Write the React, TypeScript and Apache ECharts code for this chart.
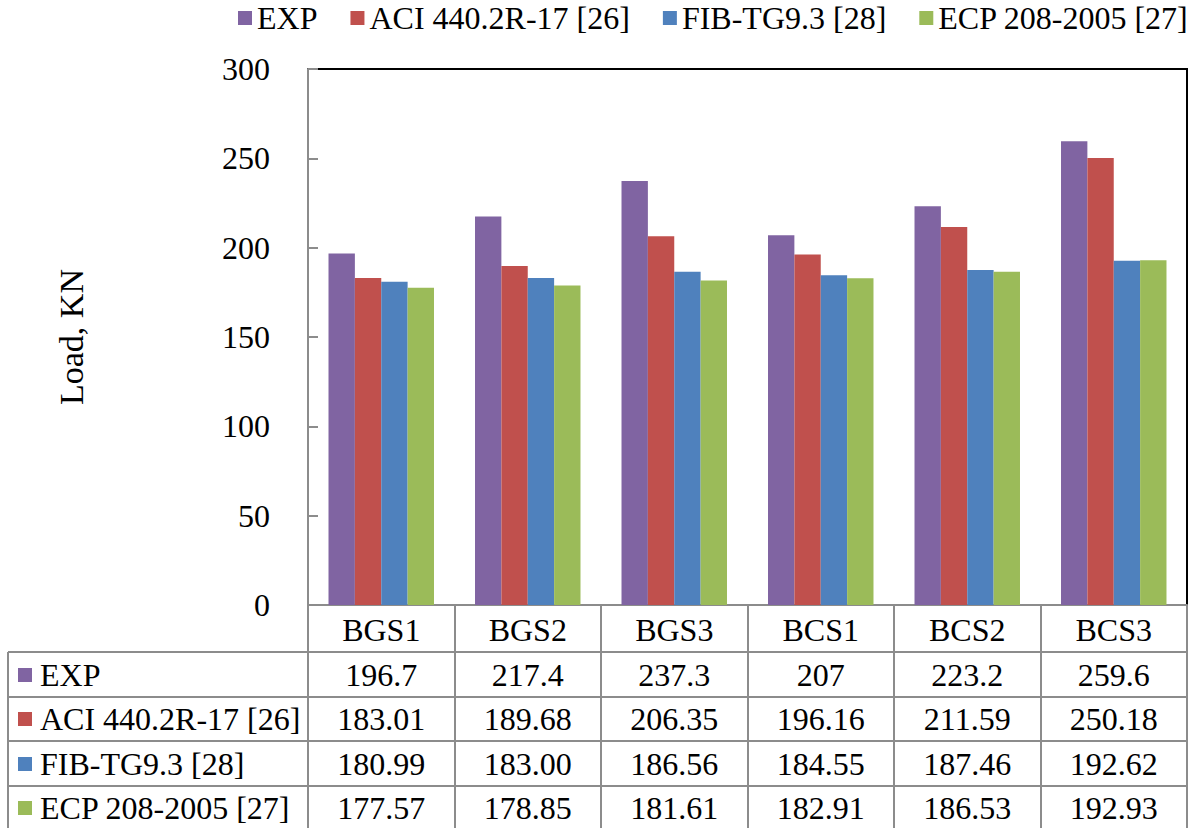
import React, { useEffect, useRef } from "react";
import * as echarts from "echarts";

const categories = ["BGS1", "BGS2", "BGS3", "BCS1", "BCS2", "BCS3"];
const seriesNames = ["EXP", "ACI 440.2R-17 [26]", "FIB-TG9.3 [28]", "ECP 208-2005 [27]"];
const expValues = [196.7, 217.4, 237.3, 207, 223.2, 259.6];
const aciValues = [183.01, 189.68, 206.35, 196.16, 211.59, 250.18];
const fibValues = [180.99, 183.0, 186.56, 184.55, 187.46, 192.62];
const ecpValues = [177.57, 178.85, 181.61, 182.91, 186.53, 192.93];
const seriesDecimals = [-1, 2, 2, 2];
const yTicks = { min: 0, max: 300, interval: 50 };
const axisName = "Load, KN";

const colors = ["#8064A2", "#C0504D", "#4F81BD", "#9BBB59"];
const FONT = "'Liberation Serif', 'Times New Roman', serif";
const FS = 32;

export default function App() {
  const ref = useRef<HTMLDivElement>(null);
  useEffect(() => {
    document.body.style.margin = "0";
    const chart = echarts.init(ref.current!, null, { renderer: "svg" });
    const allValues = [expValues, aciValues, fibValues, ecpValues];

    const gridLeft = 308;
    const gridRight = 1187;
    const gridTop = 69;
    const gridBottom = 605;
    const colW = (gridRight - gridLeft) / categories.length;
    const rowLines = [652, 697, 741, 786];
    const rowCenters = [675, 719, 764, 808];
    const tableLeft = 8;
    const lineColor = "#8C8C8C";

    const graphics: any[] = [];
    for (let i = 0; i <= categories.length; i++) {
      const x = Math.round(gridLeft + i * colW);
      graphics.push({
        type: "line",
        shape: { x1: x, y1: gridBottom, x2: x, y2: 830 },
        style: { stroke: lineColor, lineWidth: 2 },
        silent: true,
      });
    }
    graphics.push({
      type: "line",
      shape: { x1: tableLeft, y1: rowLines[0], x2: tableLeft, y2: 830 },
      style: { stroke: lineColor, lineWidth: 2 },
      silent: true,
    });
    rowLines.forEach((y) => {
      graphics.push({
        type: "line",
        shape: { x1: tableLeft, y1: y, x2: gridRight, y2: y },
        style: { stroke: lineColor, lineWidth: 2 },
        silent: true,
      });
    });
    seriesNames.forEach((name, r) => {
      const cy = rowCenters[r];
      graphics.push({
        type: "rect",
        shape: { x: 18, y: cy - 7, width: 14, height: 14 },
        style: { fill: colors[r] },
        silent: true,
      });
      graphics.push({
        type: "text",
        x: 40,
        y: cy,
        style: {
          text: name,
          fontSize: FS,
          fontFamily: FONT,
          fill: "#000",
          align: "left",
          verticalAlign: "middle",
        },
        silent: true,
      });
      allValues[r].forEach((v, c) => {
        const d = seriesDecimals[r];
        graphics.push({
          type: "text",
          x: gridLeft + (c + 0.5) * colW,
          y: cy,
          style: {
            text: d < 0 ? String(v) : v.toFixed(d),
            fontSize: FS,
            fontFamily: FONT,
            fill: "#000",
            align: "center",
            verticalAlign: "middle",
          },
          silent: true,
        });
      });
    });

    chart.setOption({
      animation: false,
      backgroundColor: "#fff",
      textStyle: { fontFamily: FONT },
      legend: {
        data: seriesNames,
        top: 2,
        left: 238,
        padding: 0,
        icon: "rect",
        itemWidth: 14,
        itemHeight: 14,
        itemGap: 33,
        textStyle: { fontSize: FS, fontFamily: FONT, color: "#000" },
      },
      grid: {
        left: gridLeft,
        top: gridTop,
        width: gridRight - gridLeft,
        height: gridBottom - gridTop,
        show: true,
        borderColor: "#000",
        borderWidth: 2,
        containLabel: false,
      },
      xAxis: {
        type: "category",
        data: categories,
        axisLine: { lineStyle: { color: "#8C8C8C", width: 2 } },
        axisTick: { show: false },
        axisLabel: { fontSize: FS, fontFamily: FONT, color: "#000", margin: 9 },
      },
      yAxis: {
        type: "value",
        min: yTicks.min,
        max: yTicks.max,
        interval: yTicks.interval,
        name: axisName,
        nameLocation: "middle",
        nameGap: 220,
        nameRotate: 90,
        nameTextStyle: { fontSize: 34, fontFamily: FONT, color: "#000" },
        axisLine: { show: true, lineStyle: { color: "#8C8C8C", width: 2 } },
        axisTick: { show: true, inside: true, length: 10, lineStyle: { color: "#8C8C8C", width: 2 } },
        axisLabel: { fontSize: FS, fontFamily: FONT, color: "#000", margin: 38 },
        splitLine: { show: false },
      },
      series: seriesNames.map((name, i) => ({
        name,
        type: "bar",
        data: allValues[i],
        itemStyle: { color: colors[i] },
        barGap: "0%",
        barCategoryGap: "28%",
      })),
      graphic: graphics,
    });
    return () => chart.dispose();
  }, []);
  return <div ref={ref} style={{ width: 1201, height: 828 }} />;
}
